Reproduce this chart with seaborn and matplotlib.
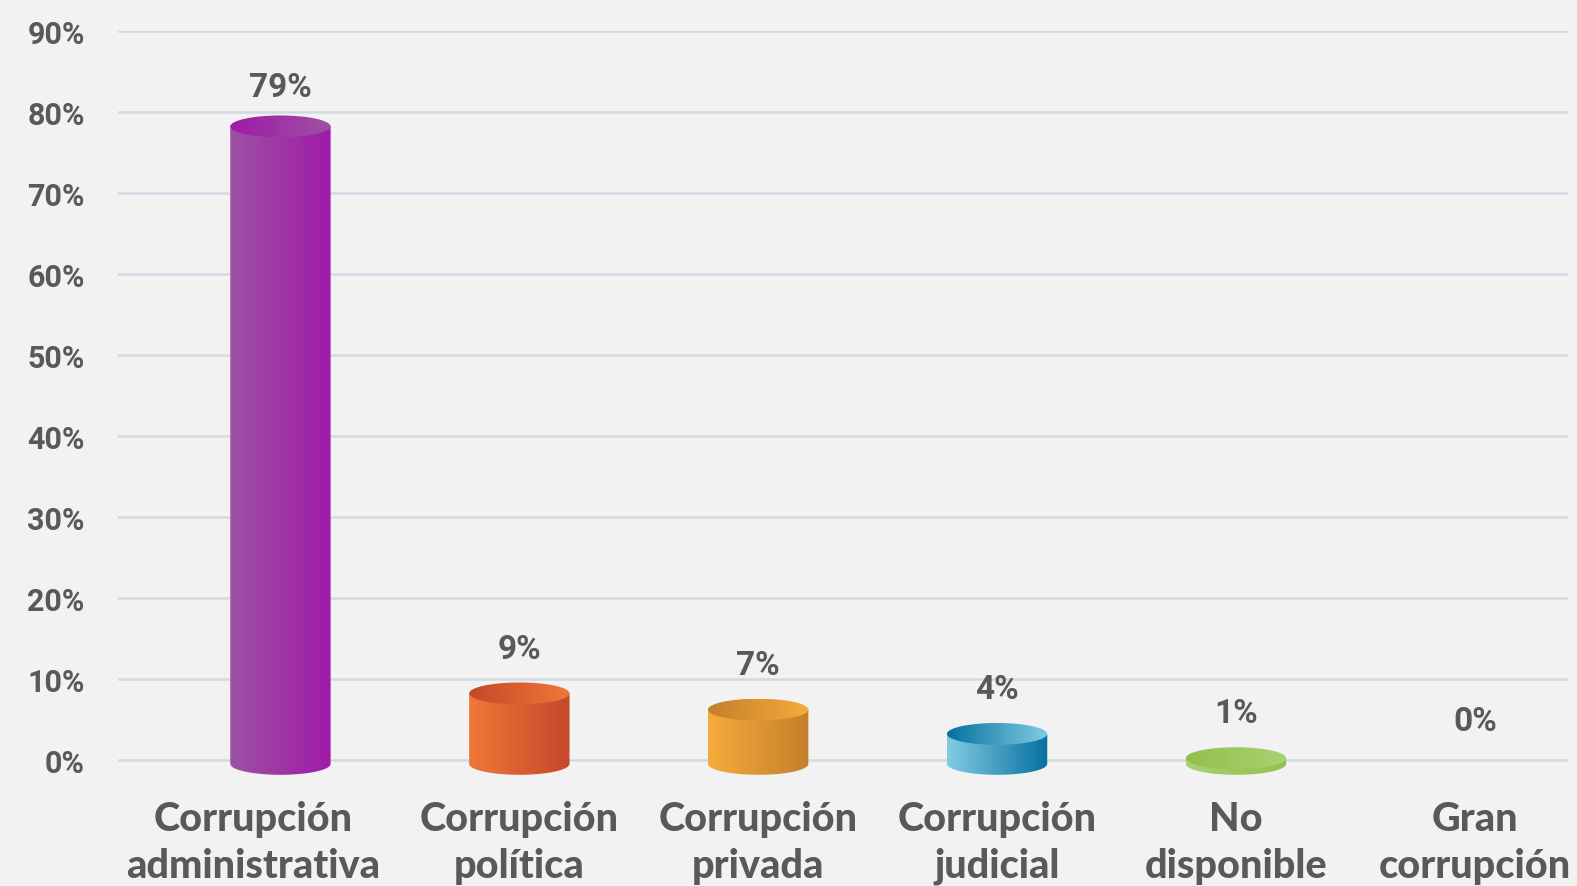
import matplotlib
matplotlib.use("Agg")
import matplotlib.pyplot as plt
import matplotlib.transforms as mtransforms
import numpy as np
import seaborn as sns
from matplotlib.colors import to_rgb
from matplotlib.patches import Ellipse, PathPatch
from matplotlib.path import Path

categories = [
    "Corrupción\nadministrativa",
    "Corrupción\npolítica",
    "Corrupción\nprivada",
    "Corrupción\njudicial",
    "No\ndisponible",
    "Gran\ncorrupción",
]
values = [79, 9, 7, 4, 1, 0]
y_ticks = [0, 10, 20, 30, 40, 50, 60, 70, 80, 90]

# (light side, dark side) of each cylinder
body_colors = [
    ("#9c52a2", "#a11aa8"),
    ("#f07838", "#c4482b"),
    ("#f7ab3c", "#c47f2a"),
    ("#82cce3", "#0670a0"),
    ("#a9d273", "#92c04a"),
    ("#cccccc", "#999999"),
]

BG = "#f2f2f2"
TXT = "#595959"
GRID = "#d0d9e4"
BASE = -0.5
TOP_SHIFT = -0.8
RY = 1.35

sns.set_theme(style="white")
plt.rcParams["font.family"] = ["Roboto", "DejaVu Sans"]


def gradient_image(ax, c_left, c_right, extent, clip, z):
    a, b = np.array(to_rgb(c_left)), np.array(to_rgb(c_right))
    t = np.linspace(0, 1, 256)[None, :, None]
    im = ax.imshow(a + (b - a) * t, extent=extent, aspect="auto",
                   interpolation="bicubic", origin="lower", zorder=z)
    im.set_clip_path(clip)


fig = plt.figure(figsize=(15.77, 8.87), dpi=100)
fig.patch.set_facecolor(BG)
ax = fig.add_axes([118 / 1577, 0.124, (1568 - 118) / 1577, 0.8401])
ax.set_facecolor(BG)

sns.barplot(x=categories, y=values, color="#999999", width=0.42, ax=ax)

for i, p in enumerate(ax.patches):
    h = p.get_height()
    p.set_visible(False)
    if h <= 0:
        continue
    x0, w = p.get_x(), p.get_width()
    cx = x0 + w / 2
    top = max(h + TOP_SHIFT, BASE + 0.7)
    light, dark = body_colors[i]
    # cylinder body: rectangle plus the lower half of the base ellipse
    t = np.linspace(np.pi, 2 * np.pi, 60)
    verts = [(x0, top), (x0, BASE)]
    verts += list(zip(cx + w / 2 * np.cos(t), BASE + RY * np.sin(t)))
    verts += [(x0 + w, top), (x0, top)]
    codes = [Path.MOVETO] + [Path.LINETO] * (len(verts) - 2) + [Path.CLOSEPOLY]
    body = PathPatch(Path(verts, codes), facecolor="none", edgecolor="none", zorder=3)
    ax.add_patch(body)
    gradient_image(ax, light, dark, [x0, x0 + w, BASE - RY, top], body, 3)
    # top cap, gradient reversed
    cap = Ellipse((cx, top), w, 2 * RY, facecolor="none", edgecolor="none", zorder=4)
    ax.add_patch(cap)
    gradient_image(ax, dark, light, [x0, x0 + w, top - RY, top + RY], cap, 4)

for i, v in enumerate(values):
    ax.text(i, v + 4.8 - 0.01 * v, f"{v}%", ha="center", va="center", fontsize=24,
            fontweight="bold", color=TXT, zorder=5)

ax.set_xlim(-0.68, 5.39)
ax.set_ylim(-2, 90)
ax.set_yticks(y_ticks)
ax.set_yticklabels([f"{v}%" for v in y_ticks])
ax.yaxis.grid(True, color=GRID, linewidth=1.8)
ax.set_axisbelow(True)
ax.tick_params(axis="y", length=0, pad=24, labelsize=22, labelcolor=TXT)
ax.tick_params(axis="x", length=0, pad=17, labelsize=28.5, labelcolor=TXT)
for lab in ax.get_yticklabels():
    lab.set_fontweight("bold")
for lab in ax.get_xticklabels():
    lab.set_fontweight(900)
    lab.set_family(["Lato", "DejaVu Sans"])
    lab.set_linespacing(1.33)
# the first category label sits a little left of its bar
lab0 = ax.get_xticklabels()[0]
lab0.set_transform(lab0.get_transform()
                   + mtransforms.ScaledTranslation(-0.27, 0, fig.dpi_scale_trans))
for s in ax.spines.values():
    s.set_visible(False)
ax.set_xlabel("")
ax.set_ylabel("")

fig.savefig("out.png", dpi=100, facecolor=BG)
